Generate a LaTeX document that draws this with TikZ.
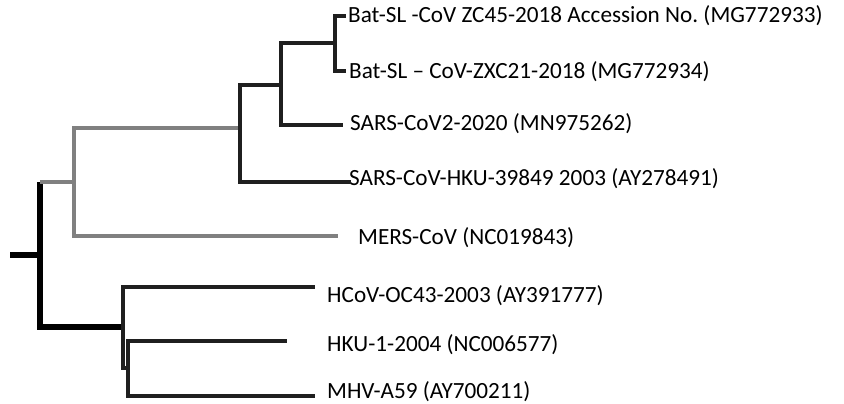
\documentclass[tikz,border=0pt]{standalone}
\usepackage{fontspec}
\setmainfont{Carlito}
\usetikzlibrary{positioning}
\frenchspacing
\tikzset{%
  greybranch/.style = {draw=black!50,line width=4.5pt},
  darkbranch/.style = {draw=black!88,line width=4.5pt},
  rootbranch/.style = {draw=black,line width=6pt},
  leaf/.style = {anchor=base west,inner sep=0pt,
        font=\fontsize{23.2}{28}\selectfont}
}

\begin{document}
\begin{tikzpicture}[x=1pt,y=-1pt]
  \useasboundingbox (0,0) rectangle (844,404);
  % inner nodes of the tree
  \coordinate (stub) at (10,255);
  \coordinate (root) at (40,255);
  \coordinate (sarsclade) at (74,182);
  \coordinate (betaclade) at (240,128);
  \coordinate (batclade) at (281,85);
  \coordinate (batpair) at (335,43);
  \coordinate (embclade) at (123,327);
  \coordinate (hkuclade) at (128,368);
  % tips
  \coordinate (batAtip) at (346,16);
  \coordinate (batBtip) at (346,71);
  \coordinate (sarsBtip) at (343,125);
  \coordinate (sarsAtip) at (351,182);
  \coordinate (merstip) at (338,236);
  \coordinate (hcovtip) at (315,287);
  \coordinate (hkutip) at (287,341);
  \coordinate (mhvtip) at (315,396);
  % labels
  \node[leaf] (batA) at (348,23) {Bat-SL -CoV ZC45-2018 Accession No. (MG772933)};
  \node[leaf] (batB) at (349,79) {Bat-SL -- CoV-ZXC21-2018 (MG772934)};
  \node[leaf] (sarsB) at (350,131) {SARS-CoV2-2020 (MN975262)};
  \node[leaf] (sarsA) at (349,185) {SARS-CoV-HKU-39849 2003 (AY278491)};
  \node[leaf] (mers) at (358,244) {MERS-CoV (NC019843)};
  \node[leaf] (hcov) at (327,302) {HCoV-OC43-2003 (AY391777)};
  \node[leaf] (hku) at (327,351) {HKU-1-2004 (NC006577)};
  \node[leaf] (mhv) at (327,398) {MHV-A59 (AY700211)};
  % branches
  \draw[rootbranch] (stub) -- (root);
  \draw[rootbranch] (root) |- (embclade);
  \draw[rootbranch] (root) -- (root |- sarsclade);
  \draw[greybranch] (root |- sarsclade) -- (sarsclade);
  \draw[greybranch] (sarsclade) |- (betaclade);
  \draw[greybranch] (sarsclade) |- (merstip);
  \draw[darkbranch] (betaclade) |- (batclade);
  \draw[darkbranch] (betaclade) |- (sarsAtip);
  \draw[darkbranch] (batclade) |- (batpair);
  \draw[darkbranch] (batclade) |- (sarsBtip);
  \draw[darkbranch] (batpair) |- (batAtip);
  \draw[darkbranch] (batpair) |- (batBtip);
  \draw[darkbranch] (embclade) |- (hcovtip);
  \draw[darkbranch] (embclade) |- (hkuclade);
  \draw[darkbranch] (hkuclade) |- (hkutip);
  \draw[darkbranch] (hkuclade) |- (mhvtip);
\end{tikzpicture}
\end{document}
